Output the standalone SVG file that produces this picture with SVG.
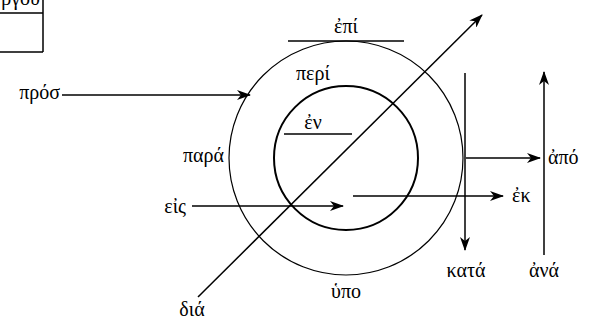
<svg xmlns="http://www.w3.org/2000/svg" width="592" height="328" viewBox="0 0 592 328">
<style>
text{font-family:"Liberation Serif","DejaVu Serif",serif;font-size:20px;fill:#000}
.ln{stroke:#000;stroke-width:1.5;fill:none}
.thin{stroke:#000;stroke-width:1.2;fill:none}
.thick{stroke:#000;stroke-width:2;fill:none}
</style>
<defs>
<marker id="ah" viewBox="0 0 14 10" refX="13" refY="5" markerWidth="14" markerHeight="10" markerUnits="userSpaceOnUse" orient="auto">
<path d="M0,0 L14,5 L0,10 L4,5 Z" fill="#000"/>
</marker>
</defs>
<g id="table">
<text x="40" y="5" text-anchor="end">ργου</text>
<path class="ln" d="M0,13 H43 M43,0 V52 M0,52 H43"/>
</g>
<g id="outer"><circle class="thin" cx="346" cy="158" r="117"/></g>
<g id="inner"><circle class="thick" cx="346" cy="158" r="72"/></g>
<g id="connectors">
<line class="ln" x1="288" y1="41" x2="404" y2="41"/>
<line class="ln" x1="284" y1="134" x2="352" y2="134"/>
<line class="ln" x1="198" y1="297" x2="482" y2="15" marker-end="url(#ah)"/>
<line class="ln" x1="62" y1="95" x2="250" y2="95" marker-end="url(#ah)"/>
<line class="ln" x1="192" y1="206" x2="343" y2="206" marker-end="url(#ah)"/>
<line class="ln" x1="353" y1="196" x2="503" y2="196" marker-end="url(#ah)"/>
<line class="ln" x1="465" y1="73" x2="465" y2="250" marker-end="url(#ah)"/>
<line class="ln" x1="466" y1="158" x2="540" y2="158" marker-end="url(#ah)"/>
<line class="ln" x1="544" y1="255" x2="544" y2="72" marker-end="url(#ah)"/>
</g>
<g id="labels">
<text x="346" y="33" text-anchor="middle">ἐπί</text>
<text x="296" y="80">περί</text>
<text x="313" y="129" text-anchor="middle">ἐν</text>
<text x="60" y="99" text-anchor="end">πρόσ</text>
<text x="224" y="162" text-anchor="end">παρά</text>
<text x="186" y="213" text-anchor="end">εἰς</text>
<text x="512" y="202">ἐκ</text>
<text x="548" y="164">ἀπό</text>
<text x="466" y="277" text-anchor="middle">κατά</text>
<text x="544" y="277" text-anchor="middle">ἀνά</text>
<text x="346" y="298" text-anchor="middle">ὑπο</text>
<text x="192" y="316" text-anchor="middle">διά</text>
</g>
</svg>
